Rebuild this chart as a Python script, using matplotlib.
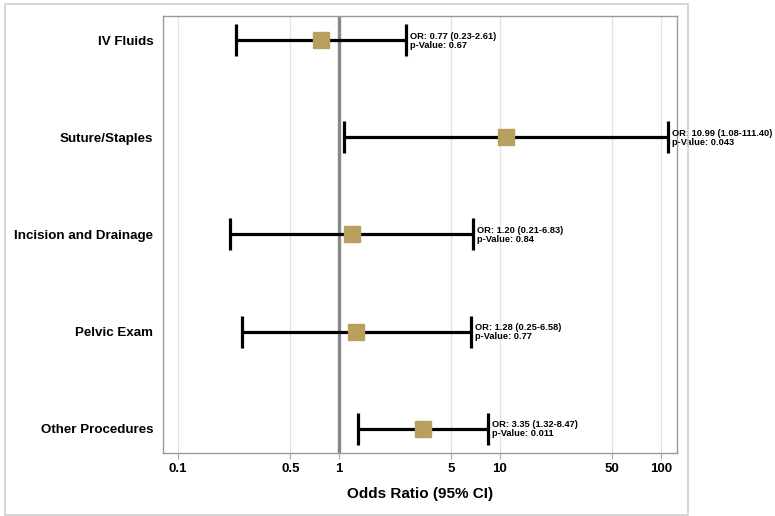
import matplotlib
matplotlib.use("Agg")
import matplotlib.pyplot as plt
from matplotlib.patches import Rectangle

categories = ["IV Fluids", "Suture/Staples", "Incision and Drainage", "Pelvic Exam", "Other Procedures"]
odds = [0.77, 10.99, 1.20, 1.28, 3.35]
lower = [0.23, 1.08, 0.21, 0.25, 1.32]
upper = [2.61, 111.40, 6.83, 6.58, 8.47]
pvals = ["0.67", "0.043", "0.84", "0.77", "0.011"]
tick_vals = [0.1, 0.5, 1, 5, 10, 50, 100]
tick_labels = ["0.1", "0.5", "1", "5", "10", "50", "100"]

plt.rcParams['font.family'] = ['Liberation Sans', 'DejaVu Sans']

fig = plt.figure(figsize=(7.75, 5.16), dpi=100)
ax = fig.add_axes([163/775, 1-453/516, (677-163)/775, (453-16)/516])

# outer border
fig.patches.append(Rectangle((5/775, 1/516), (688-5)/775, (512-1)/516, transform=fig.transFigure,
                             fill=False, edgecolor='#d0d0d0', linewidth=1.2))

ypos = list(range(len(categories)))
for v in tick_vals:
    ax.axvline(v, color='#e2e2e2', linewidth=0.9, zorder=0)
ax.axvline(1, color='#888888', linewidth=2.4, zorder=1)

xerr = [[o - l for o, l in zip(odds, lower)], [u - o for o, u in zip(odds, upper)]]
ax.errorbar(odds, ypos, xerr=xerr, fmt='none', ecolor='black', elinewidth=2.3,
            capsize=11.5, capthick=2.3, zorder=2)
ax.plot(odds, ypos, 's', color='#B99F5F', markersize=11.5, zorder=3, linestyle='none')

for y, o, l, u, p in zip(ypos, odds, lower, upper, pvals):
    ax.annotate(f"OR: {o:.2f} ({l:.2f}-{u:.2f})\np-Value: {p}", xy=(u, y),
                xytext=(2.8, -0.5), textcoords='offset points', va='center', ha='left',
                fontsize=6.7, fontweight='bold', linespacing=1.0, annotation_clip=False)

ax.set_xscale('log')
ax.set_xlim(0.0807, 126)
ax.set_ylim(4.25, -0.25)
ax.set_xticks(tick_vals)
ax.set_xticklabels(tick_labels)
ax.minorticks_off()
ax.set_yticks(ypos)
ax.set_yticklabels(categories)
ax.tick_params(axis='y', length=0, pad=7, labelsize=9.6)
ax.tick_params(axis='x', length=4, color='#aaaaaa', pad=3, labelsize=9.5)
for lab in ax.get_xticklabels() + ax.get_yticklabels():
    lab.set_fontweight('bold')
for s in ax.spines.values():
    s.set_color('#9a9a9a')
    s.set_linewidth(1.0)
ax.set_xlabel("Odds Ratio (95% CI)", fontsize=11, fontweight='bold', labelpad=9)

fig.savefig("out.png", dpi=100)
